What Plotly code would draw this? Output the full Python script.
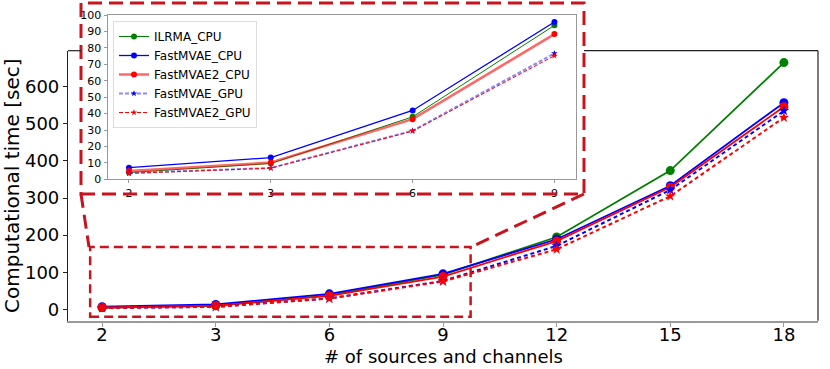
import plotly.graph_objs as go

W, H = 830, 369

# x categories (# of sources and channels)
n_src = ['2', '3', '6', '9', '12', '15', '18']
# computational time [sec]
ilrma_cpu = [4.1, 9.6, 38.0, 93.7, 195, 374, 665]
fastmvae_cpu = [7.1, 13.2, 41.9, 95.7, 189, 333, 557]
fastmvae2_cpu = [5.1, 10.2, 36.6, 88.4, 184, 329, 546]
fastmvae_gpu = [3.8, 6.9, 29.6, 76.6, 171, 322, 535]
fastmvae2_gpu = [3.6, 6.8, 29.3, 75.2, 162, 305, 517]
n_inset = 4  # inset zooms on the first four sizes

RED_BOX = '#c8141e'
FONT = 'DejaVu Sans'

series = [
    ('ILRMA_CPU', ilrma_cpu, 'green', 'solid', 'circle'),
    ('FastMVAE_CPU', fastmvae_cpu, 'blue', 'solid', 'circle'),
    ('FastMVAE2_CPU', fastmvae2_cpu, 'red', 'solid', 'circle'),
    ('FastMVAE_GPU', fastmvae_gpu, 'blue', 'dash', 'star'),
    ('FastMVAE2_GPU', fastmvae2_gpu, 'red', 'dash', 'star'),
]

fig = go.Figure()

xs = list(range(len(n_src)))
for name, vals, col, dash, sym in series:
    fig.add_trace(go.Scatter(
        x=xs, y=vals, mode='lines+markers', name=name, showlegend=False,
        line=dict(color=col, width=1.8 if dash == 'solid' else 2, dash='4px,3px' if dash == 'dash' else 'solid'),
        marker=dict(symbol=sym, size=9 if sym == 'circle' else 8, color=col),
        xaxis='x', yaxis='y'))

# inset traces (also carry the legend)
inset_style = {
    'ILRMA_CPU': ('green', 1, 'solid'),
    'FastMVAE_CPU': ('blue', 1.3, 'solid'),
    'FastMVAE2_CPU': ('rgba(255,0,0,0.6)', 2.5, 'solid'),
    'FastMVAE_GPU': ('rgba(60,60,255,0.6)', 2, '4px,2px'),
    'FastMVAE2_GPU': ('red', 1, '4px,2px'),
}
for name, vals, col, dash, sym in series:
    lc, lw, ld = inset_style[name]
    fig.add_trace(go.Scatter(
        x=xs[:n_inset], y=vals[:n_inset], mode='lines+markers', name=name,
        line=dict(color=lc, width=lw, dash=ld),
        marker=dict(symbol=sym, size=6 if sym == 'circle' else 5, color=col),
        xaxis='x2', yaxis='y2'))

def px(x):
    return x / W

def py(y):
    return 1 - y / H

shapes = []
# zoom rectangle in the main axes (data coordinates)
shapes.append(dict(type='rect', xref='x', yref='y', x0=-0.105, x1=3.243, y0=-20, y1=168,
                   line=dict(color=RED_BOX, width=2.5, dash='9px,5px'), layer='above'))
# inset box
shapes.append(dict(type='rect', xref='paper', yref='paper', x0=px(81), x1=px(584), y0=py(194), y1=py(3),
                   line=dict(color=RED_BOX, width=3, dash='14px,7px'), layer='above'))
# connectors
shapes.append(dict(type='line', xref='paper', yref='paper', x0=px(81), y0=py(194), x1=px(89), y1=py(247),
                   line=dict(color=RED_BOX, width=3, dash='14px,7px'), layer='above'))
shapes.append(dict(type='line', xref='paper', yref='paper', x0=px(584), y0=py(194), x1=px(471), y1=py(247),
                   line=dict(color=RED_BOX, width=3, dash='14px,7px'), layer='above'))
# main frame pieces not hidden by the inset
shapes.append(dict(type='line', xref='paper', yref='paper', x0=px(818), y0=py(50.7), x1=px(818), y1=py(320.7),
                   line=dict(color='#222', width=1.2)))
shapes.append(dict(type='line', xref='paper', yref='paper', x0=px(584), y0=py(50.7), x1=px(818), y1=py(50.7),
                   line=dict(color='#222', width=1.2)))
shapes.append(dict(type='line', xref='paper', yref='paper', x0=px(68), y0=py(50.7), x1=px(81), y1=py(50.7),
                   line=dict(color='#222', width=1.2)))

fig.update_layout(
    width=W, height=H,
    margin=dict(l=0, r=0, t=0, b=0),
    paper_bgcolor='white', plot_bgcolor='white',
    font=dict(family=FONT, color='black'),
    xaxis=dict(domain=[px(68), px(818)], range=[-0.3, 6.3], tickvals=xs, ticktext=n_src,
               showgrid=False, zeroline=False, showline=True, linecolor='#999', linewidth=2,
               ticks='outside', ticklen=4, tickcolor='#999', tickfont=dict(size=18),
               ticklabelstandoff=-7, automargin=False, anchor='y'),
    yaxis=dict(domain=[py(320.7), py(50.7)], range=[-30.5, 697], tickvals=[0, 100, 200, 300, 400, 500, 600],
               showgrid=False, zeroline=False, showline=True, linecolor='#222', linewidth=1.2,
               ticks='outside', ticklen=4, tickcolor='#222', tickfont=dict(size=18),
               title=dict(text='Computational time [sec]', font=dict(size=20), standoff=6),
               automargin=False, anchor='x'),
    xaxis2=dict(domain=[px(107.7), px(575.7)], range=[-0.15, 3.15], tickvals=xs[:n_inset],
                ticktext=n_src[:n_inset], showgrid=False, zeroline=False, showline=True, mirror=True,
                linecolor='#999', linewidth=1.3, ticks='outside', ticklen=3, tickcolor='#999',
                tickfont=dict(size=11), automargin=False, anchor='y2'),
    yaxis2=dict(domain=[py(179.3), py(15)], range=[0, 100], dtick=10,
                showgrid=False, zeroline=False, showline=True, mirror=True,
                linecolor='#999', linewidth=1.3, ticks='outside', ticklen=3, tickcolor='#999',
                tickfont=dict(size=11), automargin=False, anchor='x2'),
    legend=dict(x=px(113), y=py(21), xanchor='left', yanchor='top', bgcolor='white',
                bordercolor='#ddd', borderwidth=1, font=dict(size=12), tracegroupgap=0),
    shapes=shapes,
    annotations=[dict(text='# of sources and channels', xref='paper', yref='paper',
                      x=px(443), y=py(356), xanchor='center', yanchor='middle',
                      showarrow=False, font=dict(size=18))],
)

# page body has a default 8px margin; drop it so the figure fills the window
fig.write_html("out.html", config={'displayModeBar': False},
               post_script="document.body.style.margin='0';")
